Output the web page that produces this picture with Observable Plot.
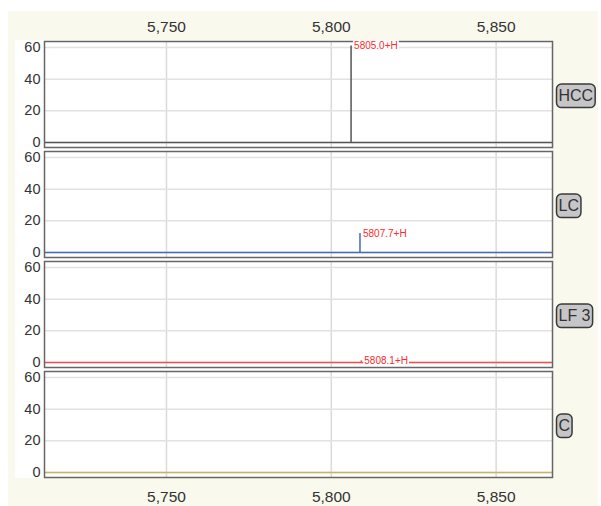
<!DOCTYPE html>
<html>
<head>
<meta charset="utf-8">
<script src="https://cdn.jsdelivr.net/npm/d3@7"></script>
<script src="https://cdn.jsdelivr.net/npm/@observablehq/plot@0.6"></script>
<style>
  html, body { margin: 0; padding: 0; background: #ffffff; }
  #page { position: relative; width: 601px; height: 506px; overflow: hidden; }
  #cream { position: absolute; left: 8px; top: 11px; width: 590px; height: 495px; background: #f9f9ee; }
  #white { position: absolute; left: 15px; top: 40px; width: 537px; height: 438px; background: #ffffff; }
  #chart { position: absolute; left: 0; top: 0; }
</style>
</head>
<body>
<div id="page">
  <div id="cream"></div>
  <div id="white"></div>
  <div id="chart"></div>
</div>
<script>
// ---- data ----
const panels = ["HCC", "LC", "LF 3", "C"];
const panelColors = ["#555555", "#4a68b4", "#ee5050", "#c8b464"];
const xTicks = [5750, 5800, 5850];
const yTicks = [0, 20, 40, 60];
const peakPanel = ["HCC", "LC", "LF 3"];
const peakMz = [5806.0, 5808.7, 5809.1];
const peakIntensity = [61, 12, 1];
const peakLabels = ["5805.0+H", "5807.7+H", "5808.1+H"];

const baselines = panels.map((p, i) => ({panel: p, color: panelColors[i]}));
const peaks = peakPanel.map((p, i) => ({
  panel: p,
  mz: peakMz[i],
  intensity: peakIntensity[i],
  label: peakLabels[i],
  color: panelColors[panels.indexOf(p)]
}));

const font = "'Liberation Sans', Arial, sans-serif";

const plot = Plot.plot({
  width: 601,
  height: 506,
  marginLeft: 44,
  marginRight: 49,
  marginTop: 40,
  marginBottom: 28,
  style: {fontFamily: font, fontSize: "15.5px", background: "transparent", color: "#333"},
  x: {domain: [5713.0, 5867.1]},
  y: {domain: [-3.2, 63.8]},
  fy: {domain: panels, axis: null, paddingInner: 0.04, paddingOuter: 0},
  color: {type: "identity"},
  marks: [
    Plot.gridX({ticks: xTicks, stroke: "#dadada", strokeOpacity: 1, strokeWidth: 1.5}),
    Plot.gridY({ticks: yTicks, stroke: "#e2e2e2", strokeOpacity: 1, strokeWidth: 1.5}),
    Plot.ruleY(baselines, {y: 0, fy: "panel", stroke: "color", strokeWidth: 1.5}),
    Plot.ruleX(peaks, {x: "mz", y1: 0, y2: "intensity", fy: "panel", stroke: "color", strokeWidth: 1.5}),
    Plot.frame({stroke: "#666", strokeWidth: 1.5}),
    Plot.text(peaks, {x: "mz", y: "intensity", fy: "panel", text: "label", dx: 3, textAnchor: "start",
      fill: "#ff2a2a", fontSize: 10}),
    Plot.axisX({anchor: "top", ticks: xTicks, tickSize: 0, tickPadding: 9.5, tickFormat: d3.format(","), label: null, fontSize: 15.5}),
    Plot.axisX({anchor: "bottom", ticks: xTicks, tickSize: 0, tickPadding: 13.5, tickFormat: d3.format(","), label: null, fontSize: 15.5}),
    Plot.axisY({anchor: "left", ticks: yTicks, tickSize: 0, tickPadding: 4, label: null, fontSize: 14.5}),
    Plot.text(panels, {fy: d => d, text: d => d, frameAnchor: "right", dx: 6, dy: 1.5, textAnchor: "start",
      fill: "#333", fontSize: 16})
  ]
});

document.getElementById("chart").appendChild(plot);

function boxBehind(textEl, pad, attrs) {
  const b = textEl.getBBox();
  const r = document.createElementNS("http://www.w3.org/2000/svg", "rect");
  const t = textEl.getAttribute("transform");
  if (t) r.setAttribute("transform", t);
  r.setAttribute("x", b.x - pad.l);
  r.setAttribute("y", b.y - pad.t);
  r.setAttribute("width", b.width + pad.l + pad.r);
  r.setAttribute("height", b.height + pad.t + pad.b);
  for (const k in attrs) r.setAttribute(k, attrs[k]);
  textEl.parentNode.insertBefore(r, textEl);
}

plot.querySelectorAll("text").forEach(el => {
  const s = el.textContent;
  if (peakLabels.includes(s)) {
    boxBehind(el, {l: 1, r: 1, t: 0, b: 0}, {fill: "#ffffff"});
  } else if (panels.includes(s)) {
    boxBehind(el, {l: 2, r: 2, t: 3, b: 3.5},
      {rx: 5, ry: 5, fill: "#c6c6c8", stroke: "#3a3a3a", "stroke-width": 1.5});
  }
});
</script>
</body>
</html>
